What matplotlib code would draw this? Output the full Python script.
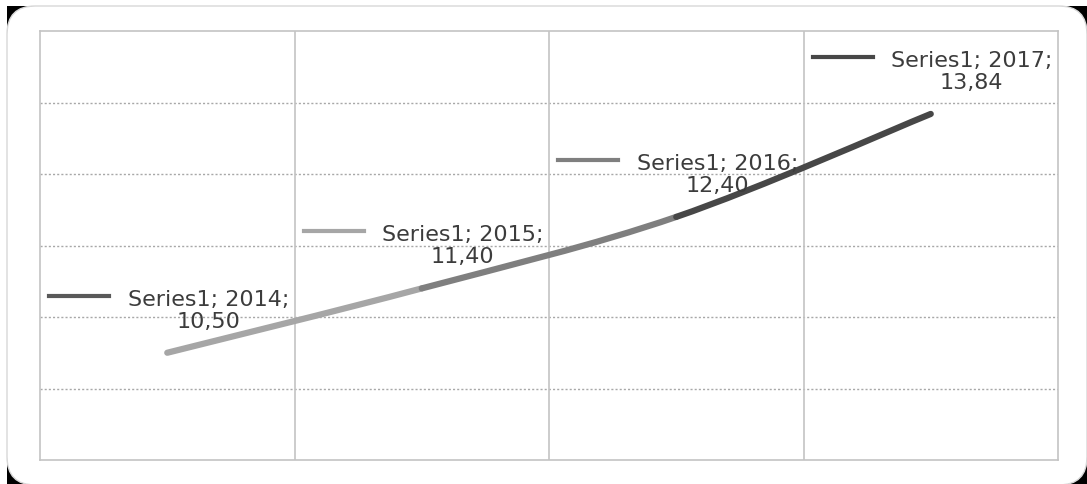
import numpy as np
import matplotlib
matplotlib.use("Agg")
import matplotlib.pyplot as plt
from matplotlib.path import Path
from matplotlib.patches import PathPatch, FancyBboxPatch, Rectangle
from matplotlib.transforms import offset_copy

plt.rcParams['font.family'] = ['DejaVu Sans']

# data
years = [2014, 2015, 2016, 2017]
values = [10.50, 11.40, 12.40, 13.84]
labels = ["10,50", "11,40", "12,40", "13,84"]
series_name = "Series1"
point_colors = ['#595959', '#a6a6a6', '#7f7f7f', '#474747']

W, H = 1087, 485
fig = plt.figure(figsize=(W / 100, H / 100), dpi=100)
fig.patch.set_facecolor('white')

# rounded frame with dark corners
fig.patches.append(Rectangle((7 / W, 0), 1, 1 - 7 / H, transform=fig.transFigure,
                             facecolor='black', edgecolor='none', zorder=-3))
fig.patches.append(FancyBboxPatch((7 / W, -0.002), 1 - 7 / W, 1 - 7 / H + 0.002,
                                  boxstyle="round,pad=0,rounding_size=0.026",
                                  mutation_aspect=W / H,
                                  transform=fig.transFigure,
                                  facecolor='white', edgecolor='#d8d8d8', lw=1.0, zorder=-2))

ax = fig.add_axes([40 / W, 24 / H, (1058 - 40) / W, (461 - 32) / H])
ax.set_facecolor('none')

x = np.arange(len(years), dtype=float)
y = np.array(values)

ax.set_xlim(-0.5, len(years) - 0.5)
ax.set_ylim(9, 15)

# grid
for yy in np.arange(10, 15):
    ax.axhline(yy, color='#a8a8a8', lw=1.0, ls=(0, (1.5, 1.5)), zorder=1)
for xx in np.arange(0.5, len(years) - 0.5):
    ax.axvline(xx, color='#c4c4c4', lw=1.2, zorder=1)
for s in ax.spines.values():
    s.set_color('#c4c4c4')
    s.set_linewidth(1.2)
ax.set_xticks([])
ax.set_yticks([])

# smoothed line, one bezier segment per pair of points
pts = np.column_stack([x, y])
n = len(pts)
for i in range(n - 1):
    p0 = pts[max(i - 1, 0)]
    p1 = pts[i]
    p2 = pts[i + 1]
    p3 = pts[min(i + 2, n - 1)]
    c1 = p1 + (p2 - p0) / 6.0
    c2 = p2 - (p3 - p1) / 6.0
    path = Path([p1, c1, c2, p2], [Path.MOVETO, Path.CURVE4, Path.CURVE4, Path.CURVE4])
    ax.add_patch(PathPatch(path, fill=False, edgecolor=point_colors[i + 1], lw=4.5,
                           capstyle='round', zorder=3))

# data labels with legend keys
for xi, yi, yr, lab, c in zip(x, y, years, labels, point_colors):
    kx0 = offset_copy(ax.transData, fig=fig, x=-118, y=57, units='dots')
    kx1 = offset_copy(ax.transData, fig=fig, x=-58, y=57, units='dots')
    a = kx0.transform((xi, yi))
    b = kx1.transform((xi, yi))
    fig.add_artist(plt.Line2D([a[0] / W, b[0] / W], [a[1] / H, b[1] / H],
                              transform=fig.transFigure, color=c, lw=3.0, zorder=4))
    ax.annotate(f"{series_name}; {yr};\n{lab}", (xi, yi), xytext=(41, 43),
                textcoords='offset pixels', ha='center', va='center',
                multialignment='center', fontsize=16, color='#3c3c3c',
                linespacing=1.12, zorder=5, annotation_clip=False)

fig.savefig("out.png", dpi=100)
